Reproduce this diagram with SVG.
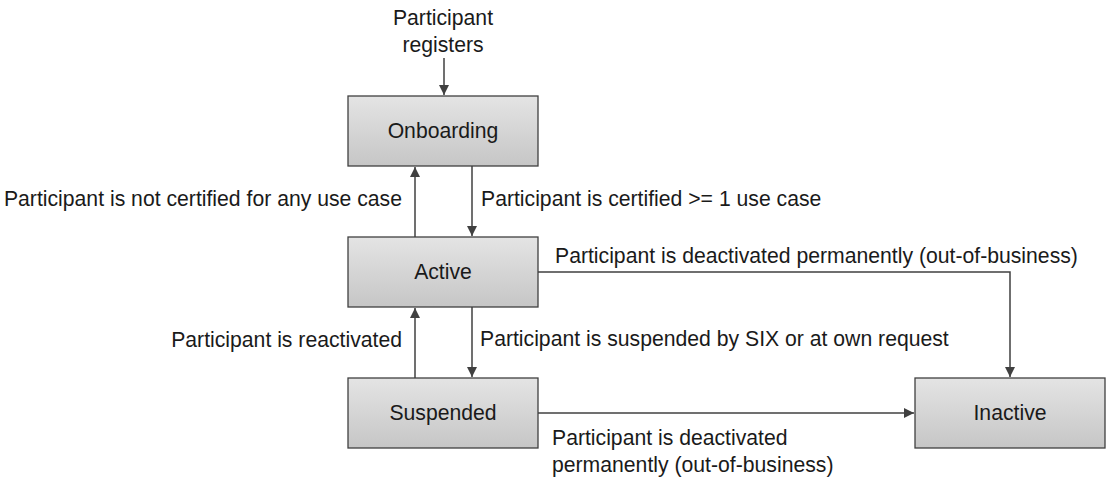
<svg xmlns="http://www.w3.org/2000/svg" width="1108" height="480" viewBox="0 0 1108 480">
<style>
.box{stroke:#404040;stroke-width:1.3;fill:url(#g)}
.t{font-family:"Liberation Sans",Arial,sans-serif;font-size:21.2px;fill:#1a1a1a}
.c{text-anchor:middle}
.r{text-anchor:end}
.ln{stroke:#404040;stroke-width:1.5;fill:none;marker-end:url(#a)}
</style>
<defs>
<linearGradient id="g" x1="0" y1="0" x2="0" y2="1">
<stop offset="0" stop-color="#e4e4e4"/>
<stop offset="1" stop-color="#c6c6c6"/>
</linearGradient>
<marker id="a" markerWidth="10" markerHeight="10" refX="10" refY="5" orient="auto" markerUnits="userSpaceOnUse">
<path d="M0,0 L10,5 L0,10 Z" fill="#404040"/>
</marker>
</defs>
<g id="connectors">
<line class="ln" x1="444" y1="58" x2="444" y2="95"/>
<line class="ln" x1="415" y1="237" x2="415" y2="167"/>
<line class="ln" x1="472" y1="166" x2="472" y2="236"/>
<line class="ln" x1="472" y1="307" x2="472" y2="377"/>
<line class="ln" x1="415" y1="378" x2="415" y2="308"/>
<polyline class="ln" points="538,272 1010,272 1010,377"/>
<line class="ln" x1="538" y1="413" x2="914" y2="413"/>
</g>
<g id="labels">
<text class="t c" x="443" y="25">Participant</text>
<text class="t c" x="443" y="52">registers</text>
<text class="t r" x="402" y="206">Participant is not certified for any use case</text>
<text class="t" x="481" y="206">Participant is certified &gt;= 1 use case</text>
<text class="t" x="555" y="263">Participant is deactivated permanently (out-of-business)</text>
<text class="t r" x="402" y="347">Participant is reactivated</text>
<text class="t" x="480" y="346">Participant is suspended by SIX or at own request</text>
<text class="t" x="552" y="445">Participant is deactivated</text>
<text class="t" x="552" y="472">permanently (out-of-business)</text>
</g>
<g id="onboarding"><rect class="box" x="348" y="96" width="190" height="70"/><text class="t c" x="443" y="138">Onboarding</text></g>
<g id="active"><rect class="box" x="348" y="237" width="190" height="70"/><text class="t c" x="443" y="279">Active</text></g>
<g id="suspended"><rect class="box" x="348" y="378" width="190" height="70"/><text class="t c" x="443" y="420">Suspended</text></g>
<g id="inactive"><rect class="box" x="915" y="378" width="190" height="70"/><text class="t c" x="1010" y="420">Inactive</text></g>
</svg>
